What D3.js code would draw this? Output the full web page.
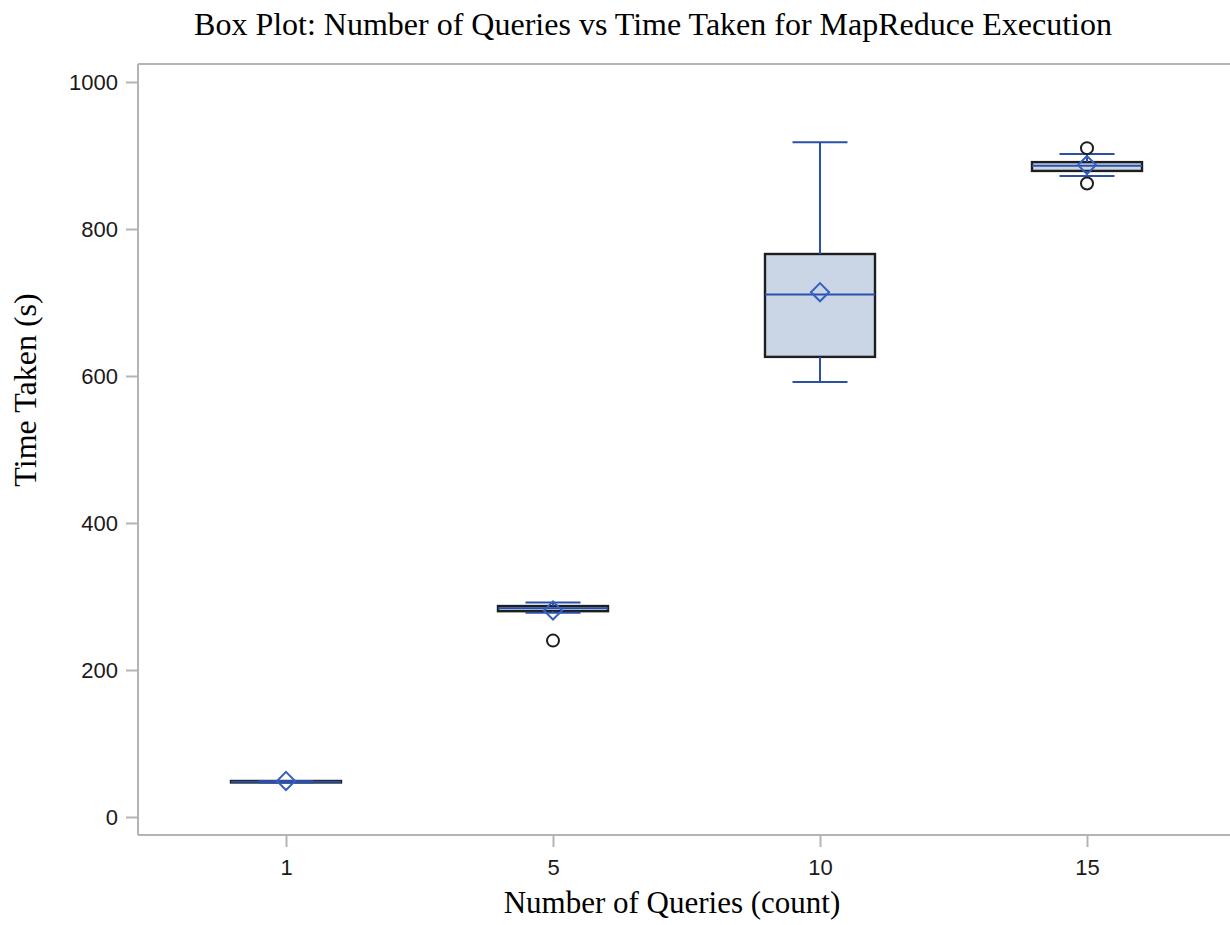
<!DOCTYPE html>
<html>
<head>
<meta charset="utf-8">
<script src="https://cdn.jsdelivr.net/npm/d3@7"></script>
<style>
  body { margin: 0; background: #fff; }
  svg { display: block; }
</style>
</head>
<body>
<div id="chart"></div>
<script>
// Chart data
const categories = ["1", "5", "10", "15"];
const q1 = [47, 280, 626, 879];
const medians = [48, 284, 711, 886];
const q3 = [49, 287, 766, 891];
const whiskerLow = [47, 278, 592, 872];
const whiskerHigh = [49, 292, 918, 902];
const means = [49, 281, 714, 887];
const outliers = [[], [240], [], [862, 910]];
const yTicks = [0, 200, 400, 600, 800, 1000];

// Layout
const width = 1230;
const height = 925;
const frame = { left: 138, top: 64, right: 1230, bottom: 835 };
const boxWidth = 110;
const capWidth = 55;

const blue = "#2a50a8";
const axisGray = "#b4b4b4";

const svg = d3.select("#chart")
    .append("svg")
    .attr("width", width)
    .attr("height", height);

const y = d3.scaleLinear()
    .domain([0, 1000])
    .range([817, 82]);

const x = d3.scalePoint()
    .domain(categories)
    .range([286, 1087]);

// Frame lines
svg.append("line")
    .attr("x1", frame.left).attr("x2", frame.left)
    .attr("y1", frame.top).attr("y2", frame.bottom)
    .attr("stroke", axisGray).attr("stroke-width", 2);
svg.append("line")
    .attr("x1", frame.left).attr("x2", frame.right)
    .attr("y1", frame.top).attr("y2", frame.top)
    .attr("stroke", axisGray).attr("stroke-width", 2);

// Y axis
const yAxis = svg.append("g")
    .attr("transform", `translate(${frame.left},0)`)
    .call(d3.axisLeft(y).tickValues(yTicks).tickFormat(d3.format("d")).tickSize(12).tickPadding(8));

// X axis
const xAxis = svg.append("g")
    .attr("transform", `translate(0,${frame.bottom})`)
    .call(d3.axisBottom(x).tickSize(12).tickPadding(12));

xAxis.select(".domain").attr("d", `M${frame.left},0H${frame.right}`);
yAxis.select(".domain").remove();

[xAxis, yAxis].forEach(a => {
    a.selectAll(".domain").attr("stroke", axisGray).attr("stroke-width", 2);
    a.selectAll(".tick line").attr("stroke", axisGray).attr("stroke-width", 2);
    a.selectAll(".tick text")
        .attr("fill", "#1a1a1a")
        .style("font-family", "'Liberation Sans', Arial, sans-serif")
        .style("font-size", "22px");
});

// Boxes
const data = categories.map((c, i) => ({
    cat: c, q1: q1[i], med: medians[i], q3: q3[i],
    lo: whiskerLow[i], hi: whiskerHigh[i], mean: means[i], out: outliers[i]
}));

const g = svg.append("g");

const box = g.selectAll(".box")
    .data(data)
    .enter()
    .append("g")
    .attr("class", "box");

// Box rectangle
box.append("rect")
    .attr("x", d => x(d.cat) - boxWidth / 2)
    .attr("width", boxWidth)
    .attr("y", d => y(d.q3))
    .attr("height", d => Math.max(y(d.q1) - y(d.q3), 1))
    .attr("fill", "#cad5e6")
    .attr("stroke", "#1e1e1e")
    .attr("stroke-width", 2.4);

// Whisker stems
box.append("line")
    .attr("x1", d => x(d.cat)).attr("x2", d => x(d.cat))
    .attr("y1", d => y(d.q3)).attr("y2", d => y(d.hi))
    .attr("stroke", blue).attr("stroke-width", 2);
box.append("line")
    .attr("x1", d => x(d.cat)).attr("x2", d => x(d.cat))
    .attr("y1", d => y(d.q1)).attr("y2", d => y(d.lo))
    .attr("stroke", blue).attr("stroke-width", 2);

// Whisker caps
box.selectAll(".cap")
    .data(d => [d.lo, d.hi].map(v => ({ cat: d.cat, v: v })))
    .enter()
    .append("line")
    .attr("class", "cap")
    .attr("x1", d => x(d.cat) - capWidth / 2)
    .attr("x2", d => x(d.cat) + capWidth / 2)
    .attr("y1", d => y(d.v)).attr("y2", d => y(d.v))
    .attr("stroke", blue).attr("stroke-width", 2);

// Median
box.append("line")
    .attr("x1", d => x(d.cat) - boxWidth / 2)
    .attr("x2", d => x(d.cat) + boxWidth / 2)
    .attr("y1", d => y(d.med)).attr("y2", d => y(d.med))
    .attr("stroke", blue).attr("stroke-width", 2);

// Mean diamond
box.append("path")
    .attr("d", d3.symbol().type(d3.symbolDiamond2).size(210))
    .attr("transform", d => `translate(${x(d.cat)},${y(d.mean)})`)
    .attr("fill", "none")
    .attr("stroke", "#3460c0")
    .attr("stroke-width", 2);

// Outliers
box.selectAll(".outlier")
    .data(d => d.out.map(v => ({ cat: d.cat, v: v })))
    .enter()
    .append("circle")
    .attr("class", "outlier")
    .attr("cx", d => x(d.cat))
    .attr("cy", d => y(d.v))
    .attr("r", 6)
    .attr("fill", "none")
    .attr("stroke", "#1e1e1e")
    .attr("stroke-width", 2);

// Titles
const serif = "'Liberation Serif', 'Times New Roman', serif";

svg.append("text")
    .attr("x", 653)
    .attr("y", 35)
    .attr("text-anchor", "middle")
    .style("font-family", serif)
    .style("font-size", "32px")
    .text("Box Plot: Number of Queries vs Time Taken for MapReduce Execution");

svg.append("text")
    .attr("x", 672)
    .attr("y", 913)
    .attr("text-anchor", "middle")
    .style("font-family", serif)
    .style("font-size", "31px")
    .text("Number of Queries (count)");

svg.append("text")
    .attr("transform", "translate(36,390) rotate(-90)")
    .attr("text-anchor", "middle")
    .style("font-family", serif)
    .style("font-size", "32px")
    .text("Time Taken (s)");
</script>
</body>
</html>
